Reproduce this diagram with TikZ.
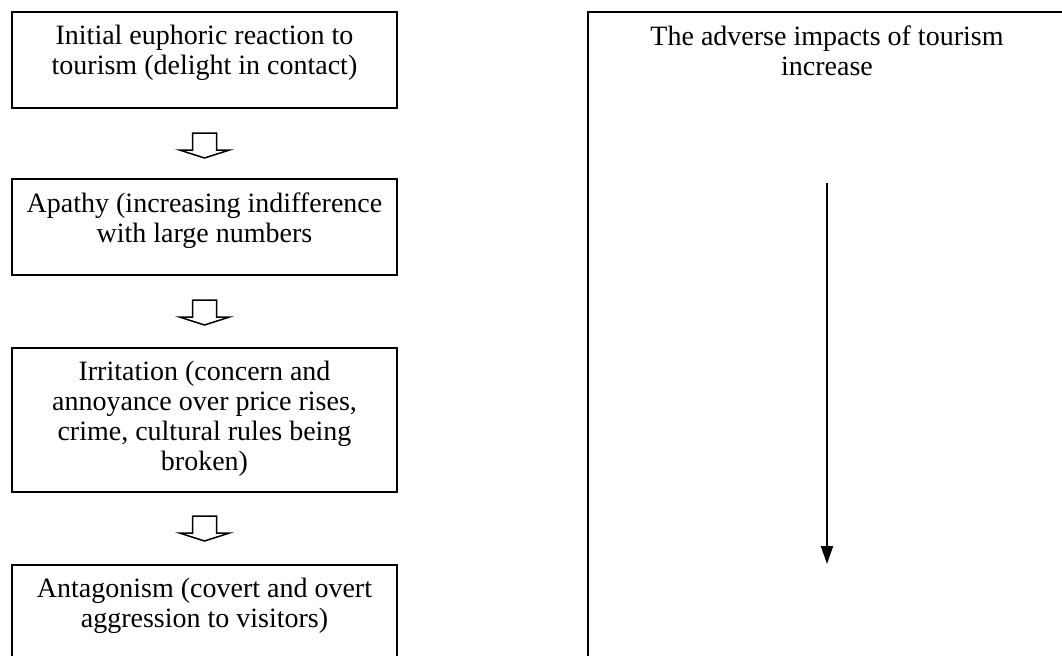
\documentclass[tikz,border=0pt]{standalone}
\usepackage{fontspec}
\setmainfont{Liberation Serif}
\usetikzlibrary{positioning,arrows.meta}
\begin{document}
\begin{tikzpicture}[x=0.5pt,y=-0.5pt,
  box/.style={draw,line width=1pt,minimum width=192.5pt,inner sep=0pt},
  boxtext/.style={align=center,inner sep=0pt,font=\fontsize{14}{15}\selectfont,execute at begin node=\strut},
  blockdown/.pic={\draw[line width=0.75pt,line join=miter] (-12,0) -- (12,0) -- (12,17) -- (25,17) -- (0,25) -- (-25,17) -- (-12,17) -- cycle;}]
\useasboundingbox (0,0) rectangle (1062,655);
\clip (0,0) rectangle (1062,655);
% stages of the irritation index
\node[box,minimum height=48pt] (euphoria) at (204.5,60) {};
\node[box,minimum height=48pt] (apathy) at (204.5,227) {};
\node[box,minimum height=72pt] (irritation) at (204.5,420) {};
\node[box,minimum height=80pt] (antagonism) at (204.5,645) {};
\node[boxtext,below=7pt of euphoria.north] (euphoriatxt) {Initial euphoric reaction to\\tourism (delight in contact)};
\node[boxtext,below=7pt of apathy.north] (apathytxt) {Apathy (increasing indifference\\with large numbers};
\node[boxtext,below=7pt of irritation.north] (irritationtxt) {Irritation (concern and\\annoyance over price rises,\\crime, cultural rules being\\broken)};
\node[boxtext,below=7pt of antagonism.north] (antagonismtxt) {Antagonism (covert and overt\\aggression to visitors)};
\pic (step1) at ([yshift=-12pt]euphoria.south) {blockdown};
\pic (step2) at ([yshift=-12pt]apathy.south) {blockdown};
\pic (step3) at ([yshift=-11.5pt]irritation.south) {blockdown};
% impacts column
\node[box,minimum width=239pt,minimum height=344pt] (impact) at (827,356) {};
\node[boxtext,below=7pt of impact.north] (impacttxt) {The adverse impacts of tourism\\increase};
\coordinate (trendtop) at (827,183);
\coordinate (trendend) at (827,564);
\draw[line width=1pt,-{Triangle[length=9pt,width=6pt]}] (trendtop) -- (trendend);
\end{tikzpicture}
\end{document}
